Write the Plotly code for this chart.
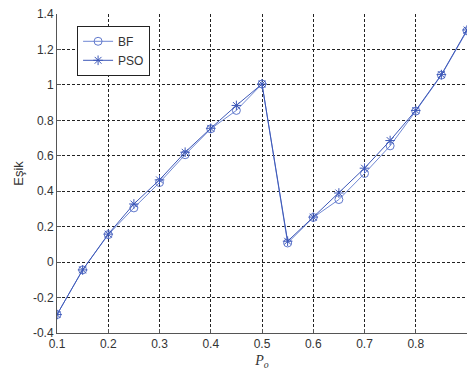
import plotly.graph_objects as go

x_vals = [0.1, 0.15, 0.2, 0.25, 0.3, 0.35, 0.4, 0.45, 0.5, 0.55, 0.6, 0.65, 0.7, 0.75, 0.8, 0.85, 0.9]
bf_vals = [-0.296, -0.044, 0.155, 0.306, 0.449, 0.606, 0.752, 0.856, 1.005, 0.108, 0.252, 0.353, 0.500, 0.656, 0.852, 1.055, 1.305]
pso_vals = [-0.296, -0.044, 0.158, 0.328, 0.464, 0.620, 0.755, 0.884, 1.005, 0.118, 0.254, 0.390, 0.530, 0.686, 0.856, 1.058, 1.310]

x_ticks = [0.1, 0.2, 0.3, 0.4, 0.5, 0.6, 0.7, 0.8, 0.9]
x_ticktext = ["0.1", "0.2", "0.3", "0.4", "0.5", "0.6", "0.7", "0.8", "0.9"]
y_ticks = [-0.4, -0.2, 0, 0.2, 0.4, 0.6, 0.8, 1.0, 1.2, 1.4]
y_ticktext = ["-0.4", "-0.2", "0", "0.2", "0.4", "0.6", "0.8", "1", "1.2", "1.4"]

fig = go.Figure()
fig.add_trace(go.Scatter(
    x=x_vals, y=bf_vals, name="BF", mode="lines+markers",
    line=dict(color="#7088d4", width=1),
    marker=dict(symbol="circle-open", size=8, color="#6078cc", line=dict(width=1)),
))
fig.add_trace(go.Scatter(
    x=x_vals, y=pso_vals, name="PSO", mode="lines+markers",
    line=dict(color="#3d58b8", width=1),
    marker=dict(symbol="asterisk-open", size=8, color="#3d58b8", line=dict(width=1, color="#3d58b8")),
))

axis_common = dict(
    showgrid=True, gridcolor="#222", gridwidth=1, griddash="3px,2px",
    showline=True, linecolor="#555", linewidth=1,
    ticks="inside", ticklen=4, tickcolor="#555",
    tickfont=dict(family="Liberation Sans, Arial, sans-serif", size=12, color="#333"),
    zeroline=False, mirror=False,
)

fig.update_layout(
    width=474, height=374,
    margin=dict(l=57, r=7, t=11, b=41),
    paper_bgcolor="white", plot_bgcolor="white",
    font=dict(family="Liberation Sans, Arial, sans-serif", size=12, color="#333"),
    xaxis=dict(range=[0.1, 0.9], tickvals=x_ticks, ticktext=x_ticktext,
               title=dict(text="<i>P<sub>o</sub></i>", standoff=4,
                          font=dict(family="Liberation Serif, Times New Roman, serif", size=14, color="#333")),
               **axis_common),
    yaxis=dict(range=[-0.4, 1.4], tickvals=y_ticks, ticktext=y_ticktext,
               title=dict(text="Eşik", standoff=6, font=dict(size=13, color="#333")),
               **axis_common),
    legend=dict(x=0.049, y=0.963, xanchor="left", yanchor="top",
                bgcolor="white", bordercolor="#222", borderwidth=1,
                font=dict(size=12, color="#333"), tracegroupgap=0,
                itemwidth=30),
    showlegend=True,
)

fig.write_html("out.html")
